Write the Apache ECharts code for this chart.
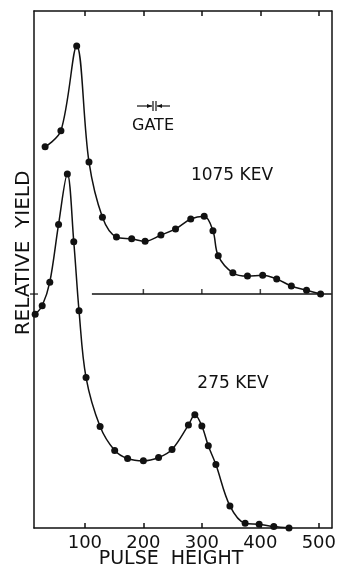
<!DOCTYPE html>
<html>
<head>
<meta charset="utf-8">
<script src="https://cdn.jsdelivr.net/npm/echarts@6/dist/echarts.min.js"></script>
<style>html,body{margin:0;padding:0;background:#fff}#c{width:339px;height:567px}</style>
</head>
<body>
<div id="c"></div>
<script>
// Tick labels on the pulse-height axis
const xTicks = [100, 200, 300, 400, 500];
// Ticks drawn on the offset baseline of the upper curve
const baselineTicks = [200, 300, 400];
const baselineRange = [112, 522];

// 1075 KEV curve (upper, measured from its own baseline)
const upperX = [32, 59, 86, 107, 130, 154, 180, 203, 230, 255, 281, 304, 319, 328, 353, 378, 404, 428, 453, 479, 503];
const upperY = [31.2, 34.6, 52.6, 28.0, 16.3, 12.1, 11.7, 11.2, 12.5, 13.8, 15.9, 16.5, 13.4, 8.1, 4.5, 3.8, 4.0, 3.2, 1.7, 0.8, 0.0];

// 275 KEV curve (lower)
const lowerX = [15, 27, 40, 55, 70, 81, 90, 102, 126, 151, 173, 200, 226, 249, 277, 288, 300, 311, 324, 348, 374, 398, 423, 449];
const lowerY = [45.5, 47.3, 52.3, 64.6, 75.3, 60.9, 46.2, 32.0, 21.6, 16.5, 14.8, 14.3, 15.0, 16.7, 21.9, 24.1, 21.7, 17.5, 13.5, 4.7, 1.0, 0.8, 0.3, 0.0];

const FONT = 'DejaVu Sans';
const zip = (a, b) => a.map((v, i) => [v, b[i]]);

const chart = echarts.init(document.getElementById('c'));
const black = '#111';
const frameLine = { show: true, onZero: false, lineStyle: { color: black, width: 1.5 } };
chart.setOption({
  animation: false,
  backgroundColor: '#fff',
  grid: { left: 34, right: 6, top: 11, bottom: 39 },
  xAxis: [
    {
      type: 'value', min: 13, max: 522, position: 'bottom',
      axisLine: frameLine,
      axisTick: { show: true, inside: true, length: 5, customValues: xTicks, lineStyle: { color: black, width: 1.5 } },
      axisLabel: { show: true, customValues: xTicks, color: black, fontFamily: FONT, fontSize: 18, margin: 6 },
      splitLine: { show: false }
    },
    {
      type: 'value', min: 13, max: 522, position: 'top',
      axisLine: frameLine,
      axisTick: { show: true, inside: true, length: 5, customValues: xTicks, lineStyle: { color: black, width: 1.5 } },
      axisLabel: { show: false },
      splitLine: { show: false }
    }
  ],
  yAxis: [
    {
      type: 'value', min: 0, max: 110, position: 'left',
      axisLine: frameLine,
      axisTick: { show: false }, axisLabel: { show: false }, splitLine: { show: false }
    },
    {
      type: 'value', min: -49.6, max: 60, position: 'right',
      axisLine: frameLine,
      axisTick: { show: false }, axisLabel: { show: false }, splitLine: { show: false }
    }
  ],
  series: [
    {
      name: '275 KEV', type: 'line', xAxisIndex: 0, yAxisIndex: 0, clip: false,
      data: zip(lowerX, lowerY), smooth: 0.35,
      symbol: 'circle', symbolSize: 7,
      itemStyle: { color: black }, lineStyle: { color: black, width: 1.5 }
    },
    {
      name: '1075 KEV', type: 'line', xAxisIndex: 0, yAxisIndex: 1, clip: false,
      data: zip(upperX, upperY), smooth: 0.35,
      symbol: 'circle', symbolSize: 7,
      itemStyle: { color: black }, lineStyle: { color: black, width: 1.5 }
    },
    {
      name: 'baseline', type: 'line', xAxisIndex: 0, yAxisIndex: 1,
      data: baselineRange.map(v => [v, 0]), symbol: 'none',
      lineStyle: { color: black, width: 1.5 }
    },
    {
      name: 'baselineTicks', type: 'scatter', xAxisIndex: 0, yAxisIndex: 1,
      data: baselineTicks.map(v => [v, 0]),
      symbol: 'rect', symbolSize: [1.5, 5], symbolOffset: [0, -2.5],
      itemStyle: { color: black }
    },
    {
      name: 'zeroTick', type: 'scatter', xAxisIndex: 0, yAxisIndex: 1,
      data: [[13, 0]], symbol: 'rect', symbolSize: [8, 1.5],
      itemStyle: { color: black }
    }
  ],
  graphic: [
    { type: 'text', x: 24, y: 253, rotation: Math.PI / 2,
      style: { text: 'RELATIVE  YIELD', fontFamily: FONT, fontSize: 20, fill: black, align: 'center', verticalAlign: 'middle' } },
    { type: 'text', x: 171, y: 559,
      style: { text: 'PULSE  HEIGHT', fontFamily: FONT, fontSize: 19, fill: black, align: 'center', verticalAlign: 'middle' } },
    { type: 'text', x: 232, y: 176,
      style: { text: '1075 KEV', fontFamily: FONT, fontSize: 17, fill: black, align: 'center', verticalAlign: 'middle' } },
    { type: 'text', x: 233, y: 384,
      style: { text: '275 KEV', fontFamily: FONT, fontSize: 17, fill: black, align: 'center', verticalAlign: 'middle' } },
    { type: 'text', x: 153, y: 126,
      style: { text: 'GATE', fontFamily: FONT, fontSize: 16, fill: black, align: 'center', verticalAlign: 'middle' } },
    { type: 'line', shape: { x1: 137, y1: 106, x2: 152, y2: 106 }, style: { stroke: black, lineWidth: 1.2 } },
    { type: 'polygon', shape: { points: [[152, 106], [147, 104], [147, 108]] }, style: { fill: black } },
    { type: 'line', shape: { x1: 170, y1: 106, x2: 157, y2: 106 }, style: { stroke: black, lineWidth: 1.2 } },
    { type: 'polygon', shape: { points: [[157, 106], [162, 104], [162, 108]] }, style: { fill: black } },
    { type: 'line', shape: { x1: 153, y1: 101, x2: 153, y2: 111 }, style: { stroke: black, lineWidth: 1.2 } },
    { type: 'line', shape: { x1: 156, y1: 101, x2: 156, y2: 111 }, style: { stroke: black, lineWidth: 1.2 } }
  ]
});
</script>
</body>
</html>
